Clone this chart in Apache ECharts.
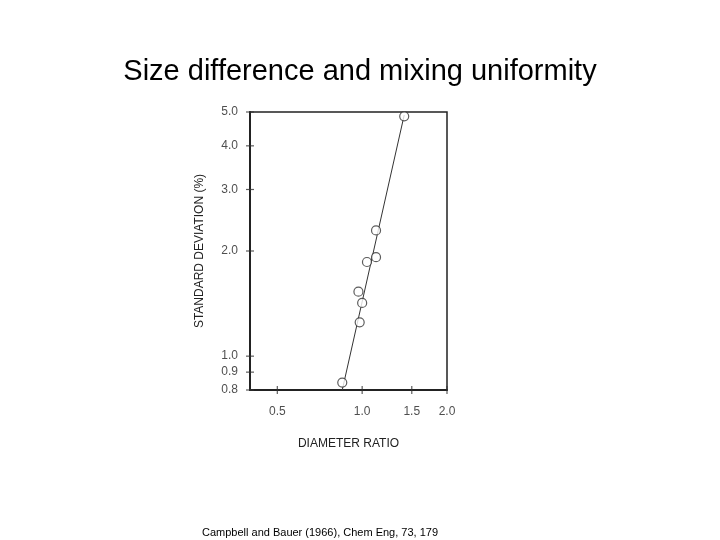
<!DOCTYPE html>
<html>
<head>
<meta charset="utf-8">
<script src="https://cdn.jsdelivr.net/npm/echarts@6/dist/echarts.min.js"></script>
<style>
  html, body { margin: 0; padding: 0; background: #fff; }
  #main { width: 720px; height: 540px; }
</style>
</head>
<body>
<div id="main"></div>
<script>
// measured points (diameter ratio, standard deviation %)
var ratio = [0.85, 0.98, 1.00, 0.97, 1.04, 1.12, 1.12, 1.41];
var stdDev = [0.84, 1.25, 1.42, 1.53, 1.86, 1.92, 2.29, 4.86];
// fitted line end points
var fitX = [0.85, 1.41];
var fitY = [0.80, 4.90];
// tick labels
var yTicks = [0.8, 0.9, 1.0, 2.0, 3.0, 4.0, 5.0];
var xTicks = [0.5, 1.0, 1.5, 2.0];

(function () {
  var myChart = echarts.init(document.getElementById("main"));
  var ink = "#222";
  var font = "Liberation Sans";

  option = {
    animation: false,
    title: [
      {
        text: "Size difference and mixing uniformity",
        left: "center",
        top: 52,
        textStyle: { fontFamily: font, fontSize: 29, fontWeight: "normal", color: "#000" },
      },
      {
        text: "Campbell and Bauer (1966), Chem Eng, 73, 179",
        left: 197,
        top: 522,
        textStyle: { fontFamily: font, fontSize: 11, fontWeight: "normal", color: "#000" },
      },
    ],
    grid: {
      left: 250, right: 273, top: 112, bottom: 150,
      show: true, borderColor: "#222", borderWidth: 1.5,
    },
    xAxis: {
      type: "log",
      min: 0.4,
      max: 2.0,
      name: "DIAMETER RATIO",
      nameLocation: "middle",
      nameGap: 48,
      nameTextStyle: { fontFamily: font, fontSize: 12, color: ink },
      axisLine: { lineStyle: { color: "#222", width: 2 } },
      axisTick: { show: false },
      axisLabel: { show: false },
      splitLine: { show: false },
    },
    yAxis: {
      type: "log",
      min: 0.8,
      max: 5.0,
      name: "STANDARD DEVIATION (%)",
      nameLocation: "middle",
      nameGap: 44,
      nameTextStyle: { fontFamily: font, fontSize: 12, color: ink },
      axisLine: { lineStyle: { color: "#222", width: 2 } },
      axisTick: { show: false },
      axisLabel: { show: false },
      splitLine: { show: false },
    },
    series: [
      {
        type: "line",
        data: fitX.map(function (x, i) { return [x, fitY[i]]; }),
        symbol: "none",
        lineStyle: { color: "#333", width: 1 },
      },
      {
        type: "scatter",
        data: ratio.map(function (x, i) { return [x, stdDev[i]]; }),
        symbol: "circle",
        symbolSize: 9,
        itemStyle: { color: "#fff", borderColor: "#333", borderWidth: 1.2 },
        z: 5,
      },
      {
        // y tick marks and labels
        type: "scatter",
        data: yTicks.map(function (v) { return [0.4, v]; }),
        symbol: "rect",
        symbolSize: [8, 1.2],
        itemStyle: { color: "#333" },
        label: {
          show: true,
          position: "left",
          distance: 8,
          fontFamily: font,
          fontSize: 12,
          color: ink,
          formatter: function (p) { return p.value[1].toFixed(1); },
        },
        silent: true,
      },
      {
        // x tick marks and labels
        type: "scatter",
        data: xTicks.map(function (v) { return [v, 0.8]; }),
        symbol: "rect",
        symbolSize: [1.2, 8],
        itemStyle: { color: "#333" },
        label: {
          show: true,
          position: "bottom",
          distance: 12,
          fontFamily: font,
          fontSize: 12,
          color: ink,
          formatter: function (p) { return p.value[0].toFixed(1); },
        },
        silent: true,
      },
    ],
  };
  myChart.setOption(option);
})();
</script>
</body>
</html>
